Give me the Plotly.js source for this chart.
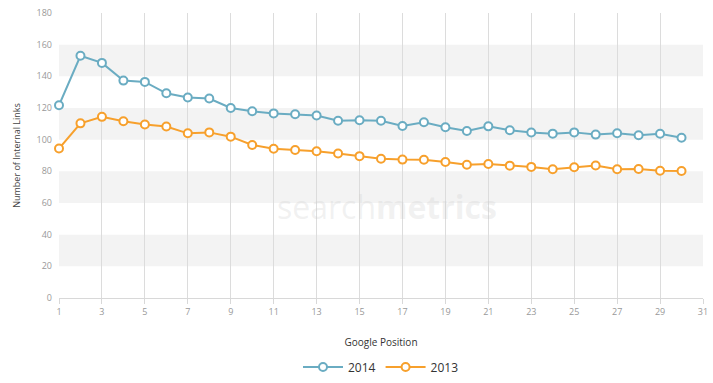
<!DOCTYPE html>
<html>
<head>
<meta charset="utf-8">
<script src="https://cdn.plot.ly/plotly-3.0.1.min.js"></script>
<style>html,body{margin:0;padding:0;background:#fff;}#chart{width:713px;height:383px;}</style>
</head>
<body>
<div id="chart"></div>
<script>
var positions = [1,2,3,4,5,6,7,8,9,10,11,12,13,14,15,16,17,18,19,20,21,22,23,24,25,26,27,28,29,30];
var links2014 = [121.7,153.0,148.5,137.3,136.5,129.3,126.6,126.0,120.0,117.9,116.6,116.1,115.3,111.9,112.3,112.0,108.6,111.0,107.8,105.5,108.4,106.0,104.5,103.8,104.6,103.2,104.1,102.8,103.7,101.2];
var links2013 = [94.4,110.3,114.4,111.6,109.6,108.3,104.0,104.6,101.9,96.6,94.3,93.5,92.7,91.3,89.6,88.0,87.4,87.3,85.9,84.2,84.6,83.6,82.8,81.3,82.6,83.7,81.3,81.5,80.4,80.2];
var seriesNames = ['2014', '2013'];
var bands = [[20,40],[60,80],[100,120],[140,160]];
var xTicks = [1,3,5,7,9,11,13,15,17,19,21,23,25,27,29,31];
var yTicks = [0,20,40,60,80,100,120,140,160,180];

var colors = ['#6aacc2', '#f7a02c'];
function mk(y, i){
  return {
    x: positions, y: y, name: seriesNames[i], type: 'scatter', mode: 'lines+markers',
    cliponaxis: false,
    line: {color: colors[i], width: 2},
    marker: {symbol: 'circle', size: 8, color: '#ffffff', line: {color: colors[i], width: 2}},
    hoverinfo: 'x+y'
  };
}
var data = [mk(links2014, 0), mk(links2013, 1)];

var shapes = bands.map(function(b){
  return {type:'rect', xref:'paper', yref:'y', x0:0, x1:1, y0:b[0], y1:b[1],
          fillcolor:'#f3f3f3', line:{width:0}, layer:'below'};
});

var layout = {
  width: 713, height: 383,
  margin: {l: 59, r: 10, t: 13, b: 85},
  paper_bgcolor: '#ffffff', plot_bgcolor: 'rgba(0,0,0,0)',
  font: {family: '"Open Sans", sans-serif', color: '#999', size: 9},
  showlegend: true,
  legend: {orientation: 'h', x: 0.5, xanchor: 'center', xref: 'paper',
           y: 0.042, yanchor: 'middle', yref: 'container',
           font: {size: 12, color: '#333'}, itemwidth: 40},
  xaxis: {
    range: [1, 31], tickvals: xTicks, ticktext: xTicks.map(String),
    showgrid: true, gridcolor: '#dcdcdc', gridwidth: 1,
    zeroline: false, showline: true, linecolor: '#d8d8d8', linewidth: 1,
    ticks: 'outside', ticklen: 5, tickcolor: '#d8d8d8',
    tickfont: {size: 9, color: '#999'},
    automargin: false,
    title: {text: 'Google Position', font: {size: 10, color: '#333'}, standoff: 22}
  },
  yaxis: {
    range: [0, 180], tickvals: yTicks, ticktext: yTicks.map(String),
    showgrid: false, zeroline: false, showline: false,
    ticks: '', ticklabelstandoff: 6,
    tickfont: {size: 9, color: '#999'},
    automargin: false,
    title: {text: 'Number of Internal Links', font: {size: 9, color: '#444'}, standoff: 14}
  },
  shapes: shapes,
  annotations: [{
    xref: 'paper', yref: 'paper', x: 0.51, y: 0.32, xanchor: 'center', yanchor: 'middle',
    text: 'search<b>metrics</b>', showarrow: false,
    font: {size: 32, color: 'rgba(200,200,200,0.25)', family: '"Open Sans", sans-serif'}
  }]
};
Plotly.newPlot('chart', data, layout, {displayModeBar: false, staticPlot: true});
</script>
</body>
</html>
